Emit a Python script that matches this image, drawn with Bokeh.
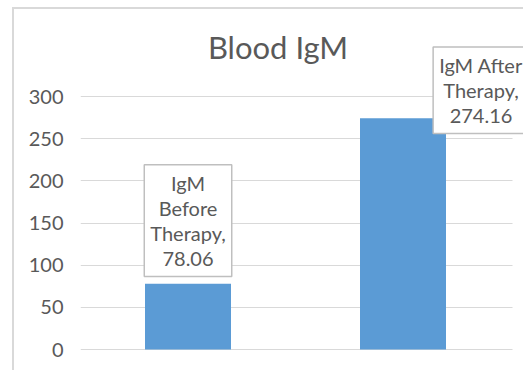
from bokeh.plotting import figure
from bokeh.models import Range1d, FixedTicker, Label
from bokeh.embed import file_html
from bokeh.resources import INLINE

# ---- data ----
title_text = "Blood IgM"
categories = ["IgM Before Therapy", "IgM After Therapy"]
values = [78.06, 274.16]
label_texts = ["IgM\nBefore\nTherapy,\n78.06", "IgM After\nTherapy,\n274.16"]
y_ticks = [0, 50, 100, 150, 200, 250, 300]

TEXT = "#595959"
GRID = "#d9d9d9"
BAR = "#5b9bd5"
FONT = "Lato"

# pixel layout (page coords)
px_per_unit = 253 / 300.0
frame_top_px, zero_px, frame_bottom_px = 10, 350, 373
cat_px = 215.0
first_center_px, grid_left_px, grid_right_px, right_px = 187.5, 80, 512, 525
title_center_px, title_anchor_px = 277.5, 47
xs = list(range(len(categories)))
x_lo = -(first_center_px - grid_left_px) / cat_px
x_grid_hi = (grid_right_px - first_center_px) / cat_px
x_hi = (right_px - first_center_px) / cat_px

W, H = 511, 363
p = figure(
    width=W, height=H,
    output_backend="svg", toolbar_location=None,
    x_range=Range1d(x_lo, x_hi),
    y_range=Range1d(-(frame_bottom_px - zero_px) / px_per_unit,
                    (zero_px - frame_top_px) / px_per_unit),
    x_axis_location=None,
    min_border_left=66, min_border_right=0, min_border_top=0, min_border_bottom=0,
)
p.margin = (7, 0, 0, 12)
p.styles = {"border-left": "2px solid #d9d9d9", "border-top": "2px solid #d9d9d9"}
p.outline_line_color = None
p.background_fill_color = "white"
p.border_fill_color = "white"
p.title.text = ""

# chart title, drawn inside the frame so that the data label box beside it is not clipped
p.add_layout(Label(
    x=(title_center_px - first_center_px) / cat_px,
    y=(zero_px - title_anchor_px) / px_per_unit,
    text=title_text, text_align="center", text_baseline="alphabetic",
    text_font=FONT, text_font_size="31px", text_color=TEXT,
))

ax = p.yaxis[0]
ax.ticker = FixedTicker(ticks=y_ticks)
ax.axis_line_color = None
ax.major_tick_line_color = None
ax.minor_tick_line_color = None
ax.major_tick_out = 0
ax.major_tick_in = 0
ax.minor_tick_out = 0
ax.major_label_standoff = 17
ax.major_label_text_font = FONT
ax.major_label_text_font_size = "20px"
ax.major_label_text_color = TEXT

p.xgrid.grid_line_color = None
p.ygrid.ticker = FixedTicker(ticks=y_ticks)
p.ygrid.grid_line_color = GRID
p.ygrid.grid_line_width = 1
try:
    p.ygrid.cross_bounds = (x_lo, x_grid_hi)
except Exception:
    p.ygrid.grid_line_color = None
    p.segment(x0=[x_lo] * len(y_ticks), x1=[x_grid_hi] * len(y_ticks),
              y0=y_ticks, y1=y_ticks, line_color=GRID, line_width=1)

p.vbar(x=xs, top=values, width=0.4, fill_color=BAR, line_color=None)

offsets = [(0, 63), (78, 28)]
for i, txt in enumerate(label_texts):
    lab = Label(
        x=xs[i], y=values[i], text=txt,
        x_offset=offsets[i][0], y_offset=offsets[i][1],
        text_align="center", text_baseline="middle",
        text_font=FONT, text_font_size="20px", text_color=TEXT,
        text_line_height=1.05,
        background_fill_color="white",
        border_line_color="#bfbfbf", border_line_width=1.5,
        padding=6,
    )
    p.add_layout(lab)

open("out.html", "w").write(file_html(p, INLINE))
